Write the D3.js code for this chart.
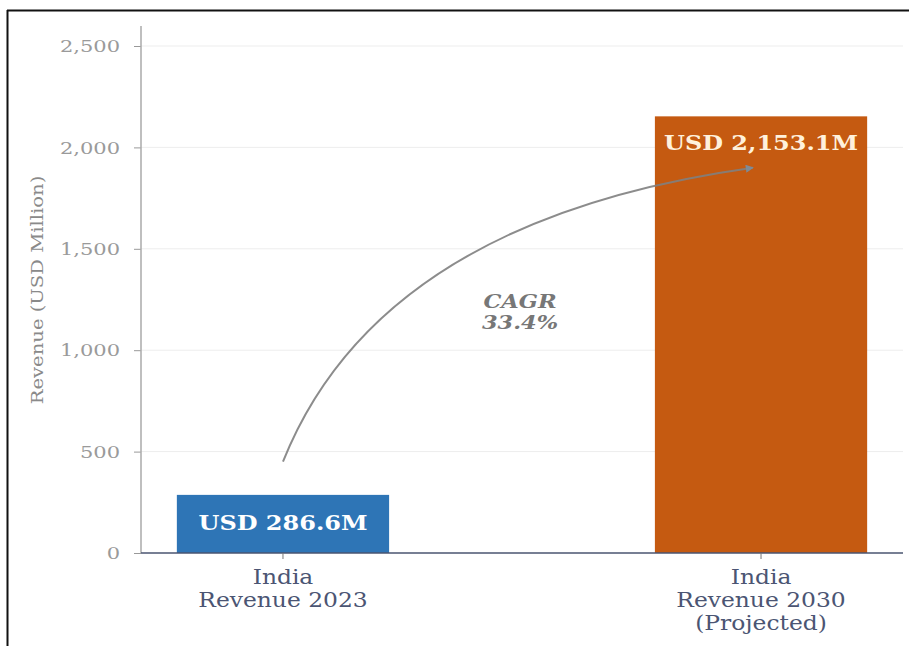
<!DOCTYPE html>
<html><head><meta charset="utf-8">
<script src="https://cdn.jsdelivr.net/npm/d3@7"></script>
<style>
html,body{margin:0;padding:0;background:#fff;}
svg{display:block;}
</style></head>
<body>
<svg id="chart" width="909" height="646"></svg>
<script>
const categories = [["India","Revenue 2023"],["India","Revenue 2030","(Projected)"]];
const values = [286.6, 2153.1];
const barLabels = ["USD 286.6M","USD 2,153.1M"];
const barColors = ["#2e75b6","#c55a11"];
const yTicks = [0,500,1000,1500,2000,2500];
const cagrText = ["CAGR","33.4%"];
const arrowFrom = 450, arrowTo = 1900;

(function(){
const svg = d3.select("#chart");
const serif = "'DejaVu Serif', serif";
const S = 1.2; // horizontal stretch of the reference's text
const mLeft = 141, mRight = 903, mTop = 26, mBottom = 553;

// frame
svg.append("line").attr("x1",7).attr("x2",909).attr("y1",10.5).attr("y2",10.5).attr("stroke","#111").attr("stroke-width",2);
svg.append("line").attr("x1",7.5).attr("x2",7.5).attr("y1",10).attr("y2",646).attr("stroke","#111").attr("stroke-width",2);

const y = d3.scaleLinear().domain([0,2500]).range([mBottom, 46]);
const x = d3.scaleBand().domain(d3.range(categories.length)).range([mLeft,mRight]).paddingInner(0.556).paddingOuter(0.075);

function stext(px, py, anchor, s){
  return svg.append("g").attr("transform",`translate(${px},${py}) scale(${s||S},1)`)
    .append("text").attr("x",0).attr("y",0).attr("text-anchor",anchor).style("font-family",serif);
}

// grid
svg.append("g").selectAll("line").data(yTicks.slice(1)).join("line")
  .attr("x1",mLeft).attr("x2",mRight).attr("y1",d=>y(d)).attr("y2",d=>y(d))
  .attr("stroke","#ededed").attr("stroke-width",1);

// y axis
const yAxis = d3.axisLeft(y).tickValues(yTicks).tickFormat(d3.format(",")).tickSize(7).tickPadding(20);
const gy = svg.append("g").attr("transform",`translate(${mLeft},0)`).call(yAxis);
gy.select(".domain").remove();
gy.selectAll(".tick line").attr("stroke","#999");
gy.selectAll(".tick text").attr("fill","#9a9a9a").style("font-family",serif).style("font-size","17.5px")
  .attr("x",-21/S).attr("transform",`scale(${S},1)`);
svg.append("line").attr("x1",mLeft).attr("x2",mLeft).attr("y1",mTop).attr("y2",mBottom).attr("stroke","#aaa").attr("stroke-width",1.5);

// bars
svg.append("g").selectAll("rect").data(values).join("rect")
  .attr("x",(d,i)=>x(i)).attr("width",x.bandwidth())
  .attr("y",d=>y(d)).attr("height",d=>y(0)-y(d))
  .attr("fill",(d,i)=>barColors[i]);

// x axis
svg.append("line").attr("x1",mLeft).attr("x2",mRight).attr("y1",mBottom).attr("y2",mBottom).attr("stroke","#4a5570").attr("stroke-width",1.5);
categories.forEach((c,i)=>{
  const cx = x(i)+x.bandwidth()/2;
  svg.append("line").attr("x1",cx).attr("x2",cx).attr("y1",mBottom).attr("y2",mBottom+6).attr("stroke","#777");
  const t = stext(cx, mBottom+31, "middle").attr("fill","#4b5573").style("font-size","19.5px");
  c.forEach((line,j)=>t.append("tspan").attr("x",0).attr("dy",j===0?0:23).text(line));
});

// y label
svg.append("g").attr("transform",`translate(43,${290}) rotate(-90) scale(1.12,1)`)
  .append("text").attr("text-anchor","middle").attr("fill","#8a8a8a").style("font-family",serif).style("font-size","17.5px")
  .text("Revenue (USD Million)");

// bar labels
values.forEach((v,i)=>{
  const cx = x(i)+x.bandwidth()/2;
  const yy = i===0 ? (y(v)+y(0))/2 + 6 : y(v)+34;
  stext(cx, yy, "middle").attr("fill", i===0?"#ffffff":"#fff1dc")
    .style("font-weight","bold").style("font-size","20px").text(barLabels[i]);
});

// arrow
const x0 = x(0)+x.bandwidth()/2, y0 = y(arrowFrom);
const x1 = x(1)+x.bandwidth()/2 - 8, y1 = y(arrowTo);
const cxp = x0 + 0.205*(x1-x0), cyp = y1 + 0.177*(y0-y1);
const defs = svg.append("defs");
defs.append("marker").attr("id","ah").attr("viewBox","0 0 10 10").attr("refX",9).attr("refY",5)
  .attr("markerWidth",11).attr("markerHeight",8).attr("markerUnits","userSpaceOnUse").attr("orient","auto")
  .append("path").attr("d","M0,0 L10,5 L0,10 z").attr("fill","#7f8a95");
const p = d3.path(); p.moveTo(x0,y0); p.quadraticCurveTo(cxp,cyp,x1,y1);
svg.append("path").attr("d",p.toString()).attr("fill","none").attr("stroke","#7f8080").attr("stroke-opacity",0.9)
  .attr("stroke-width",2).attr("marker-end","url(#ah)");

// CAGR
const ct = stext(520, 308, "middle", 1.25).attr("fill","#777")
  .style("font-style","italic").style("font-weight","bold").style("font-size","18px");
cagrText.forEach((l,j)=>ct.append("tspan").attr("x",0).attr("dy",j===0?0:21).text(l));
})();
</script>
</body></html>
